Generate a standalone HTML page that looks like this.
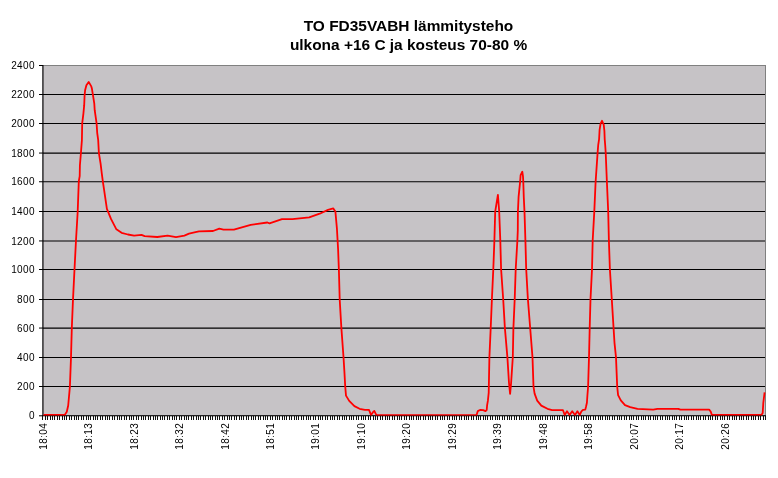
<!DOCTYPE html>
<html lang="fi">
<head>
<meta charset="utf-8">
<title>TO FD35VABH lämmitysteho</title>
<style>
html,body{margin:0;padding:0;background:#fff;}
body{width:778px;height:478px;position:relative;overflow:hidden;font-family:"Liberation Sans",sans-serif;}
.title{will-change:transform;position:absolute;left:0;top:16px;width:817px;text-align:center;font-weight:bold;font-size:15.45px;line-height:19.4px;color:#000;white-space:nowrap;}
.ax{font-family:"Liberation Sans",sans-serif;font-size:10px;fill:#000;letter-spacing:0.4px;}
</style>
</head>
<body>
<svg width="778" height="478" viewBox="0 0 778 478" style="position:absolute;left:0;top:0;will-change:transform">
<rect x="42" y="65" width="724" height="351" fill="#c6c3c6"/>
<path d="M43 94.5H765 M43 123.5H765 M43 211.5H765 M43 269.5H765 M43 299.5H765 M43 357.5H765 M43 386.5H765" stroke="#000" stroke-width="1" fill="none" shape-rendering="crispEdges"/>
<path d="M43 153.05H765 M43 181.75H765 M43 240.95H765 M43 328.05H765" stroke="#000" stroke-width="1.15" fill="none"/>
<path d="M42 65.5H766 M765.5 65V416" stroke="#808080" stroke-width="1" fill="none" shape-rendering="crispEdges"/>
<path d="M42.95 65V416" stroke="#000" stroke-width="1.1" fill="none"/>
<path d="M42.4 415.8H766" stroke="#000" stroke-width="1" fill="none"/>
<path d="M39 65.5H43 M39 94.5H43 M39 123.5H43 M39 153.05H43 M39 181.75H43 M39 211.5H43 M39 240.95H43 M39 269.5H43 M39 299.5H43 M39 328.05H43 M39 357.5H43 M39 386.5H43 M39 415.8H43" stroke="#000" stroke-width="1" fill="none"/>
<path d="M42.5 416V420 M45.5 416V420 M47.5 416V420 M50.5 416V420 M52.5 416V420 M54.5 416V420 M57.5 416V420 M59.5 416V420 M62.5 416V420 M64.5 416V420 M66.5 416V420 M69.5 416V420 M71.5 416V420 M74.5 416V420 M76.5 416V420 M78.5 416V420 M81.5 416V420 M83.5 416V420 M86.5 416V420 M88.5 416V420 M90.5 416V420 M93.5 416V420 M95.5 416V420 M97.5 416V420 M100.5 416V420 M102.5 416V420 M105.5 416V420 M107.5 416V420 M109.5 416V420 M112.5 416V420 M114.5 416V420 M117.5 416V420 M119.5 416V420 M121.5 416V420 M124.5 416V420 M126.5 416V420 M129.5 416V420 M131.5 416V420 M133.5 416V420 M136.5 416V420 M138.5 416V420 M141.5 416V420 M143.5 416V420 M145.5 416V420 M148.5 416V420 M150.5 416V420 M153.5 416V420 M155.5 416V420 M157.5 416V420 M160.5 416V420 M162.5 416V420 M164.5 416V420 M167.5 416V420 M169.5 416V420 M172.5 416V420 M174.5 416V420 M176.5 416V420 M179.5 416V420 M181.5 416V420 M184.5 416V420 M186.5 416V420 M188.5 416V420 M191.5 416V420 M193.5 416V420 M196.5 416V420 M198.5 416V420 M200.5 416V420 M203.5 416V420 M205.5 416V420 M208.5 416V420 M210.5 416V420 M212.5 416V420 M215.5 416V420 M217.5 416V420 M219.5 416V420 M222.5 416V420 M224.5 416V420 M227.5 416V420 M229.5 416V420 M231.5 416V420 M234.5 416V420 M236.5 416V420 M239.5 416V420 M241.5 416V420 M243.5 416V420 M246.5 416V420 M248.5 416V420 M251.5 416V420 M253.5 416V420 M255.5 416V420 M258.5 416V420 M260.5 416V420 M263.5 416V420 M265.5 416V420 M267.5 416V420 M270.5 416V420 M272.5 416V420 M275.5 416V420 M277.5 416V420 M279.5 416V420 M282.5 416V420 M284.5 416V420 M286.5 416V420 M289.5 416V420 M291.5 416V420 M294.5 416V420 M296.5 416V420 M298.5 416V420 M301.5 416V420 M303.5 416V420 M306.5 416V420 M308.5 416V420 M310.5 416V420 M313.5 416V420 M315.5 416V420 M318.5 416V420 M320.5 416V420 M322.5 416V420 M325.5 416V420 M327.5 416V420 M330.5 416V420 M332.5 416V420 M334.5 416V420 M337.5 416V420 M339.5 416V420 M342.5 416V420 M344.5 416V420 M346.5 416V420 M349.5 416V420 M351.5 416V420 M353.5 416V420 M356.5 416V420 M358.5 416V420 M361.5 416V420 M363.5 416V420 M365.5 416V420 M368.5 416V420 M370.5 416V420 M373.5 416V420 M375.5 416V420 M377.5 416V420 M380.5 416V420 M382.5 416V420 M385.5 416V420 M387.5 416V420 M389.5 416V420 M392.5 416V420 M394.5 416V420 M397.5 416V420 M399.5 416V420 M401.5 416V420 M404.5 416V420 M406.5 416V420 M409.5 416V420 M411.5 416V420 M413.5 416V420 M416.5 416V420 M418.5 416V420 M420.5 416V420 M423.5 416V420 M425.5 416V420 M428.5 416V420 M430.5 416V420 M432.5 416V420 M435.5 416V420 M437.5 416V420 M440.5 416V420 M442.5 416V420 M444.5 416V420 M447.5 416V420 M449.5 416V420 M452.5 416V420 M454.5 416V420 M456.5 416V420 M459.5 416V420 M461.5 416V420 M464.5 416V420 M466.5 416V420 M468.5 416V420 M471.5 416V420 M473.5 416V420 M476.5 416V420 M478.5 416V420 M480.5 416V420 M483.5 416V420 M485.5 416V420 M487.5 416V420 M490.5 416V420 M492.5 416V420 M495.5 416V420 M497.5 416V420 M499.5 416V420 M502.5 416V420 M504.5 416V420 M507.5 416V420 M509.5 416V420 M511.5 416V420 M514.5 416V420 M516.5 416V420 M519.5 416V420 M521.5 416V420 M523.5 416V420 M526.5 416V420 M528.5 416V420 M531.5 416V420 M533.5 416V420 M535.5 416V420 M538.5 416V420 M540.5 416V420 M542.5 416V420 M545.5 416V420 M547.5 416V420 M550.5 416V420 M552.5 416V420 M554.5 416V420 M557.5 416V420 M559.5 416V420 M562.5 416V420 M564.5 416V420 M566.5 416V420 M569.5 416V420 M571.5 416V420 M574.5 416V420 M576.5 416V420 M578.5 416V420 M581.5 416V420 M583.5 416V420 M586.5 416V420 M588.5 416V420 M590.5 416V420 M593.5 416V420 M595.5 416V420 M598.5 416V420 M600.5 416V420 M602.5 416V420 M605.5 416V420 M607.5 416V420 M609.5 416V420 M612.5 416V420 M614.5 416V420 M617.5 416V420 M619.5 416V420 M621.5 416V420 M624.5 416V420 M626.5 416V420 M629.5 416V420 M631.5 416V420 M633.5 416V420 M636.5 416V420 M638.5 416V420 M641.5 416V420 M643.5 416V420 M645.5 416V420 M648.5 416V420 M650.5 416V420 M653.5 416V420 M655.5 416V420 M657.5 416V420 M660.5 416V420 M662.5 416V420 M665.5 416V420 M667.5 416V420 M669.5 416V420 M672.5 416V420 M674.5 416V420 M676.5 416V420 M679.5 416V420 M681.5 416V420 M684.5 416V420 M686.5 416V420 M688.5 416V420 M691.5 416V420 M693.5 416V420 M696.5 416V420 M698.5 416V420 M700.5 416V420 M703.5 416V420 M705.5 416V420 M708.5 416V420 M710.5 416V420 M712.5 416V420 M715.5 416V420 M717.5 416V420 M720.5 416V420 M722.5 416V420 M724.5 416V420 M727.5 416V420 M729.5 416V420 M732.5 416V420 M734.5 416V420 M736.5 416V420 M739.5 416V420 M741.5 416V420 M743.5 416V420 M746.5 416V420 M748.5 416V420 M751.5 416V420 M753.5 416V420 M755.5 416V420 M758.5 416V420 M760.5 416V420 M763.5 416V420 M765.5 416V420" stroke="#111" stroke-width="1" fill="none" shape-rendering="crispEdges"/>
<polyline points="43.6,414.9 64.0,414.9 64.7,414.9 66.8,411.8 68.2,405.5 69.9,386.7 71.0,357.4 71.8,328.2 73.0,299.4 74.5,269.5 76.0,240.2 77.7,211.5 78.8,181.2 79.7,176.2 79.9,165.3 80.9,153.2 81.9,140.2 82.2,123.4 83.4,113.6 84.2,105.2 84.6,95.3 85.1,90.3 86.4,85.3 88.7,81.9 91.3,86.4 91.9,88.6 93.0,95.3 94.3,103.7 94.7,110.2 95.2,113.6 96.6,123.4 97.2,132.8 98.2,140.2 98.9,153.2 100.6,163.6 101.8,173.7 102.8,181.2 106.9,208.8 111.1,219.2 116.4,229.3 121.6,232.8 127.9,234.5 134.1,235.6 141.5,234.9 144.6,236.2 157.2,237.0 167.6,235.6 176.0,237.2 184.4,235.6 189.0,233.7 195.5,232.2 199.0,231.4 213.0,231.0 219.3,228.7 223.5,229.6 233.9,229.6 250.7,224.8 267.4,222.5 269.5,223.3 282.0,219.1 292.5,219.1 309.2,217.4 319.7,213.7 328.0,209.9 333.3,208.4 335.4,211.6 336.9,228.3 338.1,249.2 338.9,270.2 339.7,299.5 341.4,328.4 343.5,357.0 344.4,371.6 345.2,386.2 346.0,395.6 349.2,400.9 354.4,406.1 359.6,408.8 364.9,409.9 369.0,409.9 371.1,415.1 372.8,412.4 374.3,410.9 376.4,415.1 476.6,414.9 477.8,411.1 480.5,409.8 483.2,410.1 485.5,411.1 486.7,410.0 487.1,405.3 487.9,400.7 488.7,392.9 489.4,357.4 490.7,328.2 491.9,299.2 493.3,269.3 494.4,240.2 495.2,211.7 497.9,194.8 499.2,211.7 500.3,240.2 501.1,269.3 503.2,299.2 504.9,328.1 507.4,357.4 509.0,383.0 510.1,393.8 511.1,383.0 512.8,357.4 513.4,328.2 514.7,299.2 515.7,269.3 517.4,240.2 517.8,230.2 517.9,211.7 518.6,196.6 520.1,182.2 520.6,175.2 522.3,171.7 523.0,176.5 523.3,182.2 523.8,197.8 524.5,211.7 525.4,240.2 526.2,269.3 527.9,299.2 530.2,328.2 532.5,357.4 533.5,386.7 534.6,393.6 537.2,400.6 541.3,405.6 547.5,408.8 552.1,410.1 563.0,410.2 564.7,415.0 567.0,411.2 569.6,415.0 572.2,411.2 575.0,415.0 577.4,411.2 579.8,415.0 581.4,411.4 583.0,409.9 585.3,409.6 586.0,406.8 586.9,402.7 587.4,395.5 588.1,386.7 589.0,357.4 589.7,328.2 590.5,299.2 592.0,269.4 592.7,240.2 594.3,211.6 595.6,182.0 597.6,152.9 598.2,145.2 599.1,139.1 599.6,129.9 600.6,123.7 602.0,120.8 603.7,124.7 604.4,130.9 604.7,139.1 605.2,145.2 605.7,152.8 606.9,182.0 608.2,211.5 608.9,240.7 609.9,269.5 611.8,299.4 613.6,328.5 614.5,342.8 616.0,357.4 617.2,386.7 618.1,395.1 620.8,400.3 625.0,405.1 630.2,407.2 637.5,408.9 653.2,409.7 657.4,408.9 678.3,408.9 680.4,409.7 709.3,409.7 710.8,411.8 711.8,414.9 761.4,414.9 762.7,412.9 763.3,402.8 764.6,392.4" fill="none" stroke="#ff0000" stroke-width="1.8" stroke-linejoin="round" stroke-linecap="butt"/>
<path d="M44 415.5H765" stroke="#000" stroke-opacity="0.4" stroke-width="1" fill="none" shape-rendering="crispEdges"/>
<text x="35" y="69.1" text-anchor="end" class="ax">2400</text>
<text x="35" y="98.1" text-anchor="end" class="ax">2200</text>
<text x="35" y="127.1" text-anchor="end" class="ax">2000</text>
<text x="35" y="156.7" text-anchor="end" class="ax">1800</text>
<text x="35" y="185.3" text-anchor="end" class="ax">1600</text>
<text x="35" y="215.1" text-anchor="end" class="ax">1400</text>
<text x="35" y="244.5" text-anchor="end" class="ax">1200</text>
<text x="35" y="273.1" text-anchor="end" class="ax">1000</text>
<text x="35" y="303.1" text-anchor="end" class="ax">800</text>
<text x="35" y="331.7" text-anchor="end" class="ax">600</text>
<text x="35" y="361.1" text-anchor="end" class="ax">400</text>
<text x="35" y="390.1" text-anchor="end" class="ax">200</text>
<text x="35" y="419.4" text-anchor="end" class="ax">0</text>
<text transform="translate(46.6 449.8) rotate(-90)" class="ax">18:04</text>
<text transform="translate(92.1 449.8) rotate(-90)" class="ax">18:13</text>
<text transform="translate(137.6 449.8) rotate(-90)" class="ax">18:23</text>
<text transform="translate(183.0 449.8) rotate(-90)" class="ax">18:32</text>
<text transform="translate(228.5 449.8) rotate(-90)" class="ax">18:42</text>
<text transform="translate(273.9 449.8) rotate(-90)" class="ax">18:51</text>
<text transform="translate(319.4 449.8) rotate(-90)" class="ax">19:01</text>
<text transform="translate(364.9 449.8) rotate(-90)" class="ax">19:10</text>
<text transform="translate(410.3 449.8) rotate(-90)" class="ax">19:20</text>
<text transform="translate(455.8 449.8) rotate(-90)" class="ax">19:29</text>
<text transform="translate(501.2 449.8) rotate(-90)" class="ax">19:39</text>
<text transform="translate(546.7 449.8) rotate(-90)" class="ax">19:48</text>
<text transform="translate(592.1 449.8) rotate(-90)" class="ax">19:58</text>
<text transform="translate(637.6 449.8) rotate(-90)" class="ax">20:07</text>
<text transform="translate(683.1 449.8) rotate(-90)" class="ax">20:17</text>
<text transform="translate(728.5 449.8) rotate(-90)" class="ax">20:26</text>
</svg>
<div class="title">TO FD35VABH lämmitysteho<br>ulkona +16 C ja kosteus 70-80 %</div>
</body>
</html>
